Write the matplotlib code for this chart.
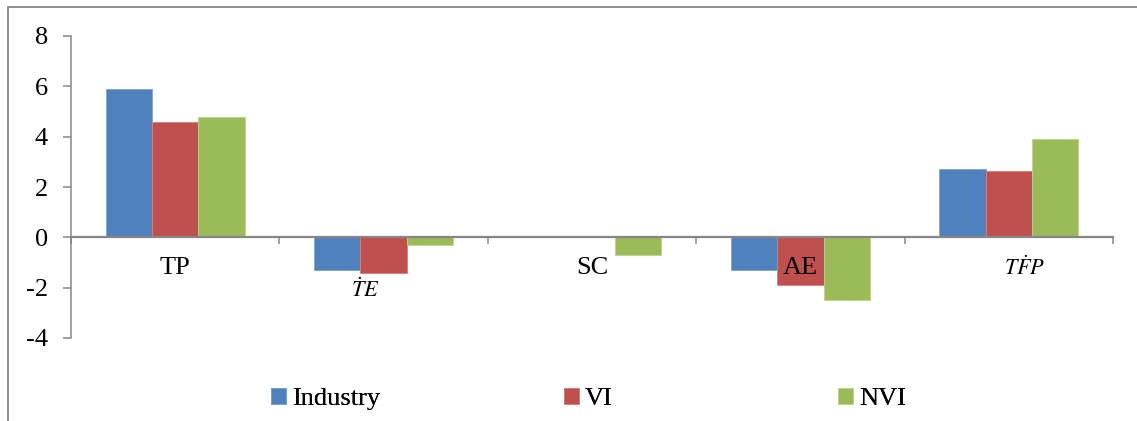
import numpy as np
import matplotlib.pyplot as plt
from matplotlib.patches import Rectangle

# components of productivity growth
categories = ['TP', r'$\dot{T}E$', 'SC', 'AE', r'$T\dot{F}P$']
industry = [5.9, -1.3, 0.0, -1.3, 2.7]
vi = [4.6, -1.4, 0.0, -1.9, 2.65]
nvi = [4.8, -0.3, -0.7, -2.5, 3.9]
series_names = ['Industry', 'VI', 'NVI']

colors = ['#4F81BD', '#C0504D', '#9BBB59']
edges = ['#7EA3D3', '#D8807D', '#BCD58E']
axis_grey = '#868686'

plt.rcParams['font.family'] = 'Liberation Serif'
plt.rcParams['mathtext.fontset'] = 'stix'
FS = 19


def main():
    fig = plt.figure(figsize=(11.37, 4.21), dpi=100)
    W, H = 1137, 421
    ax = fig.add_axes([71 / W, 1 - 338 / H, (1113 - 71) / W, (338 - 36) / H])

    # outer chart frame (only left and top edges fall inside the image)
    fig.patches.append(Rectangle((8 / W, -0.05), 1.1, 1.05 - 7 / H,
                                 transform=fig.transFigure, fill=False,
                                 edgecolor=axis_grey, linewidth=1.3))

    x = np.arange(len(categories))
    w = 2 / 9
    data = [industry, vi, nvi]
    bars = []
    for k in range(3):
        b = ax.bar(x + (k - 1) * w, data[k], width=w, color=colors[k],
                   edgecolor=edges[k], linewidth=0.6, label=series_names[k], zorder=2)
        bars.append(b)

    ax.set_xlim(-0.5, len(categories) - 0.5)
    ax.set_ylim(-4, 8)
    ax.set_yticks(np.arange(-4, 9, 2))
    ax.set_yticklabels([str(v) for v in range(-4, 9, 2)])

    for s in ['top', 'right']:
        ax.spines[s].set_visible(False)
    ax.spines['left'].set_color(axis_grey)
    ax.spines['left'].set_linewidth(1.1)
    ax.spines['bottom'].set_position(('data', 0))
    ax.spines['bottom'].set_color(axis_grey)
    ax.spines['bottom'].set_linewidth(1.6)
    ax.spines['bottom'].set_zorder(3)

    ax.set_xticks(np.arange(len(categories) + 1) - 0.5)
    ax.set_xticklabels([])
    ax.tick_params(axis='x', direction='out', length=5, width=1.1, color=axis_grey)
    ax.tick_params(axis='y', direction='out', length=6, width=1.1, color=axis_grey,
                   pad=10.5, labelsize=FS)

    # category names under the zero line
    dx = [0, -18, 0, 0, 16]
    dy = [-31, -53, -31, -31, -31]
    sizes = [FS, 16, FS, FS, 16]
    for i, lab in enumerate(categories):
        ax.annotate(lab, xy=(x[i], 0), xytext=(dx[i], dy[i]),
                    textcoords='offset pixels', ha='center', va='center',
                    fontsize=sizes[i], zorder=4)

    # one legend entry per series, spread along the bottom
    legend_x = [271, 564, 838]
    for k in range(3):
        leg = fig.legend([bars[k]], [series_names[k]], loc='center left',
                         bbox_to_anchor=(legend_x[k] / W, 1 - 399 / H),
                         frameon=False, handlelength=0.55, handleheight=0.55,
                         handletextpad=0.25, borderpad=0, borderaxespad=0,
                         fontsize=FS)
        fig.add_artist(leg)

    fig.savefig('out.png', dpi=100)


if __name__ == '__main__':
    main()
